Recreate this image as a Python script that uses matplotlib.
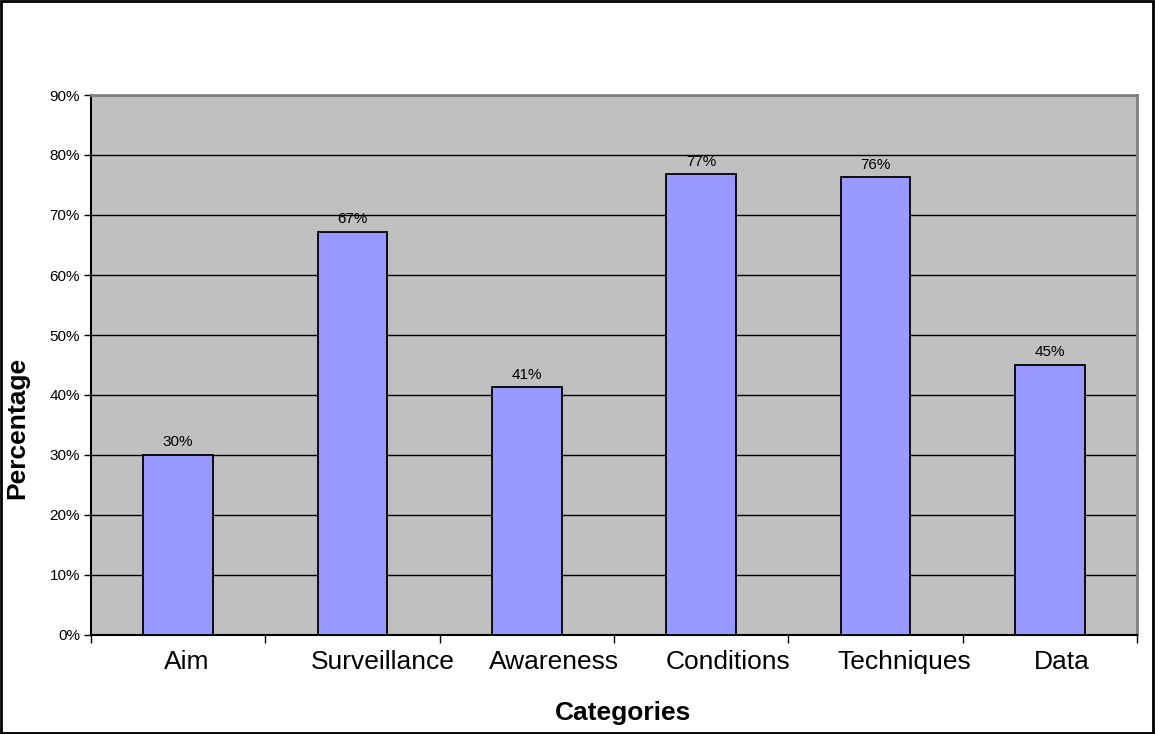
import numpy as np
import matplotlib.pyplot as plt
from matplotlib.patches import Rectangle
from matplotlib.ticker import FixedLocator, PercentFormatter
from matplotlib.transforms import ScaledTranslation

plt.rcParams['font.family'] = ['Liberation Sans', 'DejaVu Sans']

categories = ['Aim', 'Surveillance', 'Awareness', 'Conditions', 'Techniques', 'Data']
values = [30.0, 67.2, 41.3, 76.8, 76.3, 45.0]
y_ticks = [0, 10, 20, 30, 40, 50, 60, 70, 80, 90]
# horizontal nudge of each category label, in pixels
label_shift_px = [9, 30, 27, 27, 29, 12]

W, H = 1155, 734
fig = plt.figure(figsize=(W / 100, H / 100), dpi=100)
ax = fig.add_axes([91 / W, (H - 635) / H, (1137 - 91) / W, (635 - 95) / H])
ax.set_facecolor('#C0C0C0')

x = np.arange(len(categories))
bars = ax.bar(x, values, width=0.4, color='#9999FF', edgecolor='black',
              linewidth=1.3, zorder=3)

for b, v in zip(bars, values):
    ax.annotate(f'{v:.0f}%', (b.get_x() + b.get_width() / 2, v),
                xytext=(0, 4), textcoords='offset points',
                ha='center', va='bottom', fontsize=11, zorder=4)

ax.set_xlim(-0.5, len(categories) - 0.5)
ax.set_ylim(0, 90)
ax.set_yticks(y_ticks)
ax.yaxis.set_major_formatter(PercentFormatter(decimals=0))
ax.grid(axis='y', color='black', linewidth=1.0, zorder=1)
ax.tick_params(axis='y', direction='out', length=5, width=1, labelsize=11, pad=3)

# category labels sit between boundary ticks
ax.set_xticks(x)
ax.set_xticklabels(categories, fontsize=19)
ax.tick_params(axis='x', length=0, pad=11)
ax.xaxis.set_minor_locator(FixedLocator(np.arange(len(categories) + 1) - 0.5))
ax.tick_params(axis='x', which='minor', direction='out', length=6, width=1)
for lbl, dx in zip(ax.get_xticklabels(), label_shift_px):
    lbl.set_transform(lbl.get_transform() + ScaledTranslation(dx / 100, 0, fig.dpi_scale_trans))

for side in ('top', 'right'):
    ax.spines[side].set_color('#808080')
    ax.spines[side].set_linewidth(2)
for side in ('left', 'bottom'):
    ax.spines[side].set_color('black')
    ax.spines[side].set_linewidth(1.5)

fig.text(17 / W, 1 - 428 / H, 'Percentage', rotation=90, ha='center',
         va='center', fontsize=19, fontweight='bold')
fig.text(623 / W, 1 - 713 / H, 'Categories', ha='center', va='center',
         fontsize=19, fontweight='bold')

fig.patches.append(Rectangle((0.001, 0.002), 0.997, 0.996, transform=fig.transFigure,
                             fill=False, edgecolor='black', linewidth=2))

fig.savefig('out.png', dpi=100, facecolor='white')
